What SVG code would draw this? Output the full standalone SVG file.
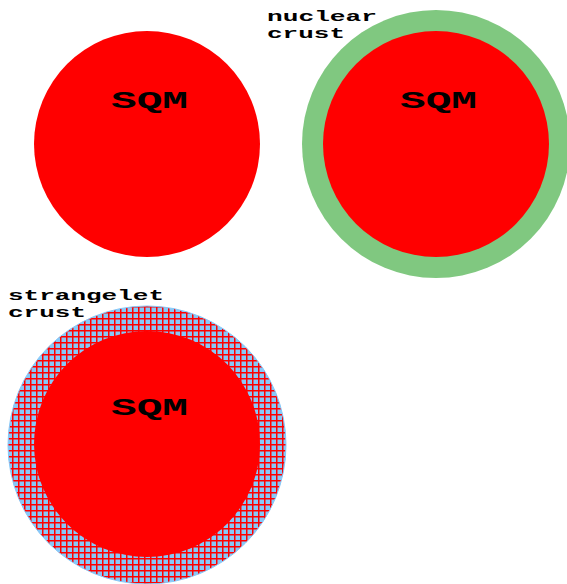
<svg xmlns="http://www.w3.org/2000/svg" width="567" height="584" viewBox="0 0 567 584">
<style>
.core{fill:#ff0000}
.sqm{font-family:"Liberation Mono","Courier New",monospace;font-weight:bold;font-size:24px;fill:#000}
.lbl{font-family:"Liberation Mono","Courier New",monospace;font-weight:bold;font-size:15.5px;fill:#000}
</style>
<defs>
<pattern id="grid" patternUnits="userSpaceOnUse" x="0" y="0" width="6" height="6">
<rect width="6" height="6" fill="#87c8f8"/>
<rect x="0" y="0" width="1.5" height="6" fill="#ff0000"/>
<rect x="0" y="0" width="6" height="1.5" fill="#ff0000"/>
</pattern>
</defs>
<g id="sqm-bare">
<circle class="core" cx="147" cy="144" r="113"/>
<text class="sqm" x="111" y="108" textLength="77" lengthAdjust="spacingAndGlyphs">SQM</text>
</g>
<g id="sqm-nuclear-crust">
<circle cx="436" cy="144" r="134" fill="#80c880"/>
<circle class="core" cx="436" cy="144" r="113"/>
<text class="sqm" x="400" y="108" textLength="77" lengthAdjust="spacingAndGlyphs">SQM</text>
<text class="lbl" x="267" y="21" textLength="110" lengthAdjust="spacingAndGlyphs">nuclear</text>
<text class="lbl" x="267" y="38" textLength="78" lengthAdjust="spacingAndGlyphs">crust</text>
</g>
<g id="sqm-strangelet-crust">
<circle cx="147" cy="445" r="139" fill="url(#grid)" stroke="#87c8f8" stroke-width="1"/>
<circle class="core" cx="147" cy="444" r="113"/>
<text class="sqm" x="111" y="415" textLength="77" lengthAdjust="spacingAndGlyphs">SQM</text>
<text class="lbl" x="8" y="300" textLength="156" lengthAdjust="spacingAndGlyphs">strangelet</text>
<text class="lbl" x="8" y="317" textLength="78" lengthAdjust="spacingAndGlyphs">crust</text>
</g>
<g id="connectors"/>
</svg>
